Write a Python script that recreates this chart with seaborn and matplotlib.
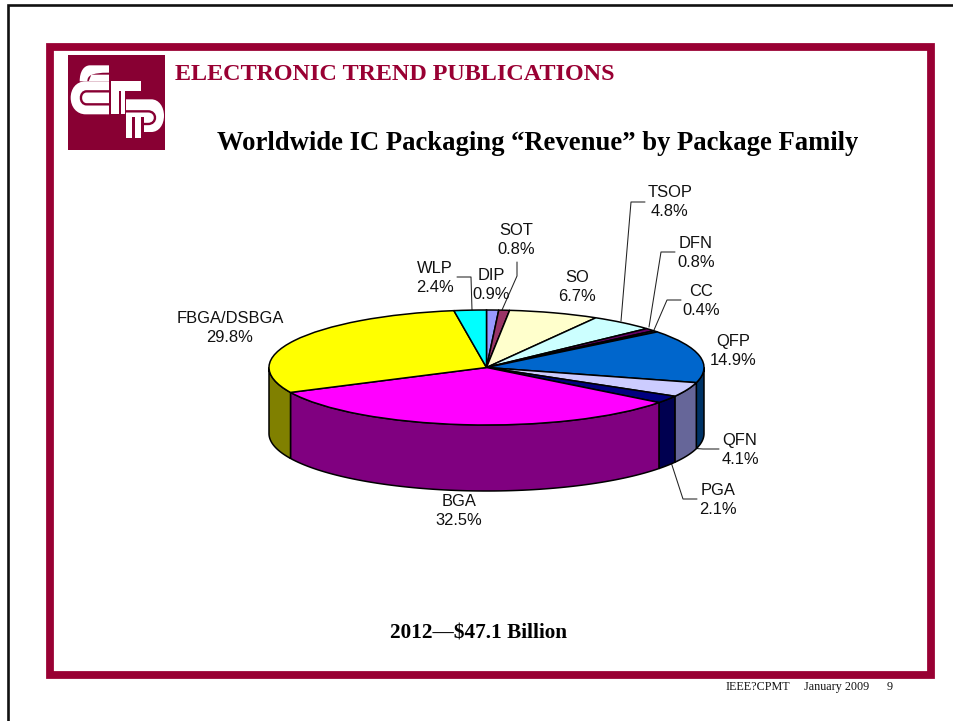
import numpy as np
import matplotlib
matplotlib.use("Agg")
import matplotlib.pyplot as plt
from matplotlib.patches import PathPatch, Polygon, Rectangle
from matplotlib.path import Path
import seaborn as sns

sns.set_theme(style="white")
plt.rcParams["font.family"] = ["Liberation Sans", "DejaVu Sans"]

families = ["DIP", "SOT", "SO", "TSOP", "DFN", "CC", "QFP", "QFN", "PGA", "BGA", "FBGA/DSBGA", "WLP"]
shares = [0.9, 0.8, 6.7, 4.8, 0.8, 0.4, 14.9, 4.1, 2.1, 32.5, 29.8, 2.4]
face_hex = ["#9999FF", "#993366", "#FFFFCC", "#CCFFFF", "#660066", "#30305A",
            "#0066CC", "#CCCCFF", "#000080", "#FF00FF", "#FFFF00", "#00FFFF"]
wall_hex = ["#4D4D80", "#4D1A33", "#808066", "#668080", "#330033", "#181830",
            "#003366", "#666699", "#000050", "#800080", "#808000", "#008080"]

header = "ELECTRONIC TREND PUBLICATIONS"
title = "Worldwide IC Packaging \u201cRevenue\u201d by Package Family"
subtitle = "2012\u2014$47.1 Billion"
footer = ["IEEE?CPMT", "January 2009", "9"]

MAROON = "#990033"
LOGO = "#880033"
W, H = 954, 721
CX, CY, RX, RY, DEPTH = 486.5, 367.5, 217.5, 57.5, 66

fig = plt.figure(figsize=(W / 100, H / 100), dpi=100, facecolor="white")
page = fig.add_axes([0, 0, 1, 1])
page.set_xlim(0, W)
page.set_ylim(H, 0)
page.axis("off")

# Page rule and the slide frame
page.plot([8, 8, W], [H, 5, 5], color="#111111", lw=1.9, solid_joinstyle="miter")
page.add_patch(Rectangle((50.5, 46.5), 880.5, 628.5, fill=False, ec=MAROON, lw=5.6, joinstyle="miter"))

# Company mark, laid out on a 3x grid and mapped to the page
def gx(x):
    return x / 3 + 64

def gy(y):
    return y / 3 + 52

def shape(verts, codes=None, fc="white"):
    pts = [(gx(x), gy(y)) for x, y in verts]
    page.add_patch(PathPatch(Path(pts, codes), fc=fc, ec="none", lw=0, zorder=3))

M, L, C, Z = Path.MOVETO, Path.LINETO, Path.CURVE4, Path.CLOSEPOLY
page.add_patch(Rectangle((68, 55), 97.5, 94.5, fc=LOGO, ec="none", zorder=2))
shape([(135, 40), (78, 40), (60, 40), (47, 58), (47, 88), (70, 88), (70, 72), (80, 62), (135, 62), (135, 40)],
      [M, L, C, C, C, L, C, C, L, Z])
shape([(135, 68), (82, 68), (74, 88), (135, 88), (135, 68)], [M, L, L, L, Z])
shape([(135, 88), (65, 88), (35, 88), (20, 112), (20, 137), (20, 165), (38, 187), (65, 187), (135, 187), (135, 88)],
      [M, L, C, C, C, C, C, C, L, Z])
shape([(140, 88), (232, 88), (232, 118), (165, 118), (165, 187), (140, 187), (140, 88)], [M, L, L, L, L, L, Z])
shape([(170, 118), (182, 118), (182, 187), (170, 187), (170, 118)], [M, L, L, L, Z])
shape([(186, 142), (262, 142), (285, 142), (300, 165), (300, 191), (300, 218), (285, 240), (262, 240),
       (240, 240), (240, 195), (186, 195), (186, 142)],
      [M, L, C, C, C, C, C, C, L, L, L, Z])
shape([(186, 195), (205, 195), (205, 258), (186, 258), (186, 195)], [M, L, L, L, Z])
shape([(212, 195), (232, 195), (232, 258), (212, 258), (212, 195)], [M, L, L, L, Z])

def stroke(verts, codes):
    pts = [(gx(x), gy(y)) for x, y in verts]
    page.add_patch(PathPatch(Path(pts, codes), fc="none", ec=LOGO, lw=1.7, zorder=4))

stroke([(135, 118), (68, 118), (45, 118), (45, 157), (68, 157), (135, 157)], [M, L, C, C, C, L])
stroke([(186, 178), (252, 178), (280, 178), (280, 216), (252, 216), (236, 216)], [M, L, C, C, C, L])

# Headings
serif = ["Liberation Serif", "DejaVu Serif"]
page.text(175, 75, header, family=serif, weight="bold", size=17.35, color=MAROON, ha="left", va="center")
page.text(537.5, 143, title, family=serif, weight="bold", size=19.15, color="black", ha="center", va="center")
page.text(479, 634, subtitle, family=serif, weight="bold", size=15.3, color="black", ha="center", va="center")
for x, piece in zip([726, 804, 887], footer):
    page.text(x, 687, piece, family=serif, size=8.7, color="#111111", ha="left", va="center")

# Rim of the pie: only the near half of the disc shows a wall
faces = sns.color_palette(face_hex)
walls = sns.color_palette(wall_hex)
edges = np.cumsum([0] + shares) / sum(shares) * 360
for start, stop, wall in zip(edges[:-1], edges[1:], walls):
    lo, hi = max(start, 90), min(stop, 270)
    if hi <= lo:
        continue
    theta = np.radians(np.linspace(lo, hi, 80))
    xs = CX + RX * np.sin(theta)
    ys = CY - RY * np.cos(theta)
    outline = np.r_[np.c_[xs, ys], np.c_[xs[::-1], ys[::-1] + DEPTH]]
    page.add_patch(Polygon(outline, closed=True, fc=wall, ec="black", lw=1.1, zorder=1))

# Top face
disc = fig.add_axes([(CX - RX) / W, 1 - (CY + RY) / H, 2 * RX / W, 2 * RY / H])
disc.pie(shares, colors=faces, startangle=90, counterclock=False, radius=1,
         wedgeprops={"edgecolor": "black", "linewidth": 1.1})
disc.set_aspect("auto")
disc.set_xlim(-1, 1)
disc.set_ylim(-1, 1)
disc.patch.set_visible(False)

# Labels with their leader lines
label_at = {
    "DIP": (491, 285), "SOT": (516, 240), "SO": (577, 287), "TSOP": (670, 202),
    "DFN": (696, 253), "CC": (701, 301), "QFP": (733, 351), "QFN": (740, 450),
    "PGA": (718, 500), "BGA": (459, 511), "FBGA/DSBGA": (230, 328), "WLP": (435, 278),
}
for name, value in zip(families, shares):
    x, y = label_at[name]
    page.text(x, y, f"{name}\n{value:.1f}%", size=11.9, color="#111111", ha="center", va="center",
              linespacing=1.4, zorder=6)

leaders = [
    ([457, 471, 472], [277, 277, 310]),
    ([517, 517, 502], [262, 276, 310]),
    ([645, 631, 621], [202, 202, 321]),
    ([675, 661, 649], [252, 252, 327]),
    ([681, 667, 654], [300, 300, 330]),
    ([719, 703, 689], [449, 449, 448]),
    ([697, 683, 670], [499, 499, 459]),
]
for xs, ys in leaders:
    page.plot(xs, ys, color="#222222", lw=0.75, zorder=0.5)

fig.savefig("out.png", dpi=100, facecolor="white")
